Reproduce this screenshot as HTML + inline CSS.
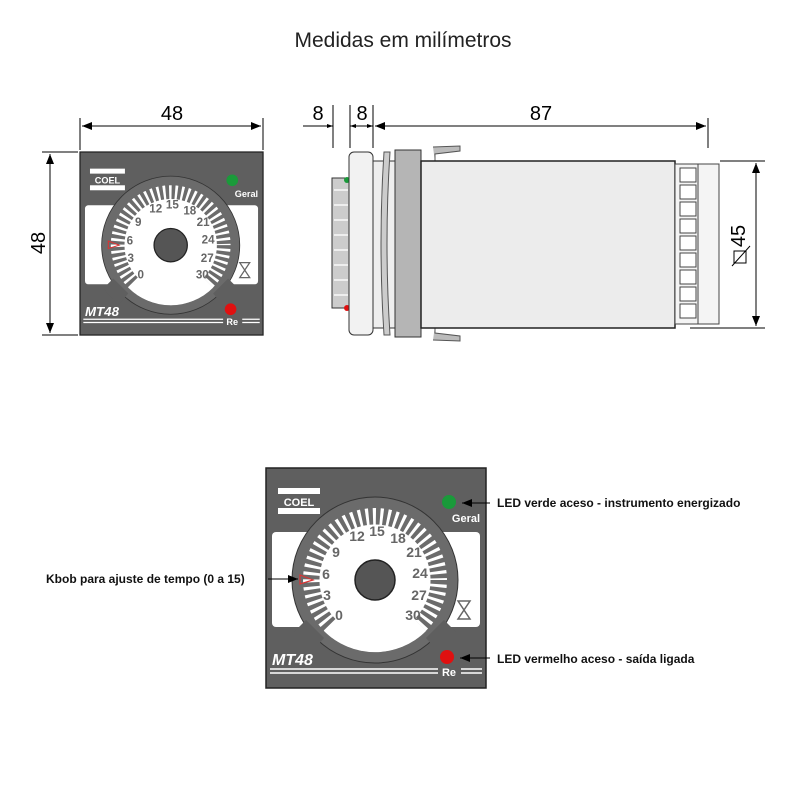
<!DOCTYPE html>
<html><head><meta charset="utf-8"><style>body{margin:0;background:#fff}svg{display:block}</style></head><body>
<svg width="800" height="800" viewBox="0 0 800 800" xmlns="http://www.w3.org/2000/svg" font-family="Liberation Sans, sans-serif">
<defs>
<marker id="a" markerWidth="10" markerHeight="8" refX="10" refY="4" orient="auto" markerUnits="userSpaceOnUse"><path d="M0,0 L10,4 L0,8 Z" fill="#000"/></marker>
<marker id="s" markerWidth="6" markerHeight="4" refX="6" refY="2" orient="auto" markerUnits="userSpaceOnUse"><path d="M0,0 L6,2 L0,4 Z" fill="#000"/></marker>
<g id="face">
<rect x="0" y="0" width="220" height="220" fill="#5f5f5f" stroke="#222" stroke-width="1.5"/>
<rect x="6" y="64" width="208" height="95" rx="4" fill="#fff"/>
<rect x="12" y="20" width="42" height="6" fill="#fff"/>
<rect x="12" y="40" width="42" height="6" fill="#fff"/>
<text x="33" y="38" font-size="11" font-weight="bold" fill="#fff" text-anchor="middle">COEL</text>
<circle cx="109" cy="112" r="83" fill="#6b6b6b" stroke="#333" stroke-width="1"/>
<circle cx="109" cy="112" r="72" fill="#fff"/>
<circle cx="109" cy="112" r="64" fill="none" stroke="#6b6b6b" stroke-width="17" stroke-dasharray="4.2 3"/>
<circle cx="109" cy="112" r="54" fill="#fff"/>
<path d="M109,112 L58,163 A72,72 0 0 0 160,163 Z" fill="#fff"/>
<path d="M40,152 L58,170 L46,184 L28,164 Z" fill="#5f5f5f"/>
<path d="M178,152 L160,170 L172,184 L190,164 Z" fill="#5f5f5f"/>
<circle cx="109" cy="112" r="20" fill="#555" stroke="#222" stroke-width="1.5"/>
<g font-size="14" font-weight="bold" fill="#666" text-anchor="middle">
<text x="91" y="73">12</text><text x="111" y="68">15</text><text x="132" y="75">18</text>
<text x="70" y="89">9</text><text x="148" y="89">21</text>
<text x="60" y="111">6</text><text x="154" y="110">24</text>
<text x="61" y="132">3</text><text x="153" y="132">27</text>
<text x="73" y="152">0</text><text x="147" y="152">30</text>
</g>
<path d="M34,107 L47,112 L34,116 Z" fill="none" stroke="#d33" stroke-width="1.2"/>
<path d="M192,133 L204,133 L198,142 L204,151 L192,151 L198,142 Z" fill="none" stroke="#666" stroke-width="1.5"/>
<circle cx="183" cy="34" r="7" fill="#1a9a3a"/>
<text x="200" y="54" font-size="11" font-weight="bold" fill="#fff" text-anchor="middle">Geral</text>
<circle cx="181" cy="189" r="7" fill="#e01010"/>
<text x="183" y="208" font-size="11" font-weight="bold" fill="#fff" text-anchor="middle">Re</text>
<text x="6" y="197" font-size="16" font-weight="bold" font-style="italic" fill="#fff">MT48</text>
<g stroke="#fff" stroke-width="1.5"><line x1="4" y1="201" x2="172" y2="201"/><line x1="4" y1="205" x2="172" y2="205"/><line x1="195" y1="201" x2="216" y2="201"/><line x1="195" y1="205" x2="216" y2="205"/></g>
</g>
</defs>
<text x="403" y="47" font-size="21" text-anchor="middle" fill="#222">Medidas em milímetros</text>
<g stroke="#000" stroke-width="1" fill="none">
<line x1="80" y1="118" x2="80" y2="150"/><line x1="263" y1="118" x2="263" y2="150"/>
<line x1="82" y1="126" x2="261" y2="126" marker-end="url(#a)"/><line x1="261" y1="126" x2="82" y2="126" marker-end="url(#a)"/>
<line x1="42" y1="152" x2="78" y2="152"/><line x1="42" y1="335" x2="78" y2="335"/>
<line x1="50" y1="154" x2="50" y2="333" marker-end="url(#a)"/><line x1="50" y1="333" x2="50" y2="154" marker-end="url(#a)"/>
</g>
<text x="172" y="120" font-size="20" text-anchor="middle">48</text>
<text transform="translate(45,243) rotate(-90)" font-size="20" text-anchor="middle">48</text>
<use href="#face" transform="translate(80,152) scale(0.832)"/>
<g stroke="#000" stroke-width="1" fill="none">
<line x1="333" y1="105" x2="333" y2="148"/><line x1="350" y1="105" x2="350" y2="148"/><line x1="373" y1="105" x2="373" y2="148"/><line x1="708" y1="118" x2="708" y2="148"/>
<line x1="303" y1="126" x2="333" y2="126" marker-end="url(#s)"/>
<line x1="361" y1="126" x2="350" y2="126" marker-end="url(#s)"/><line x1="361" y1="126" x2="373" y2="126" marker-end="url(#s)"/>
<line x1="706" y1="126" x2="375" y2="126" marker-end="url(#a)"/><line x1="375" y1="126" x2="706" y2="126" marker-end="url(#a)"/>
<line x1="720" y1="161" x2="765" y2="161"/><line x1="690" y1="328" x2="765" y2="328"/>
<line x1="756" y1="163" x2="756" y2="326" marker-end="url(#a)"/><line x1="756" y1="326" x2="756" y2="163" marker-end="url(#a)"/>
</g>
<text x="318" y="120" font-size="20" text-anchor="middle">8</text>
<text x="362" y="120" font-size="20" text-anchor="middle">8</text>
<text x="541" y="120" font-size="20" text-anchor="middle">87</text>
<text transform="translate(745,236) rotate(-90)" font-size="20" text-anchor="middle">45</text>
<rect x="734" y="251" width="12" height="12" fill="none" stroke="#000"/><line x1="732" y1="266" x2="750" y2="246" stroke="#000"/>
<rect x="332" y="178" width="17" height="130" fill="#ccc" stroke="#333"/>
<g stroke="#eee" stroke-width="2"><line x1="334" y1="190" x2="348" y2="190"/><line x1="334" y1="205" x2="348" y2="205"/><line x1="334" y1="220" x2="348" y2="220"/><line x1="334" y1="235" x2="348" y2="235"/><line x1="334" y1="250" x2="348" y2="250"/><line x1="334" y1="265" x2="348" y2="265"/><line x1="334" y1="280" x2="348" y2="280"/><line x1="334" y1="295" x2="348" y2="295"/></g>
<circle cx="347" cy="180" r="3" fill="#1a9a3a"/><circle cx="347" cy="308" r="3" fill="#e01010"/>
<rect x="373" y="161" width="50" height="167" fill="#eee" stroke="#333"/>
<rect x="349" y="152" width="24" height="183" rx="5" fill="#f2f2f2" stroke="#333"/>
<path d="M433,147 L460,146 L460,151 L435,154 L435,162 M433,340 L460,341 L460,336 L435,333 L435,326" fill="#bbb" stroke="#555"/>
<path d="M384,152 Q378,243 384,335 L390,335 Q384,243 390,152 Z" fill="#ccc" stroke="#555"/>
<rect x="395" y="150" width="26" height="187" fill="#b5b5b5" stroke="#333"/>
<rect x="421" y="161" width="254" height="167" fill="#ececec" stroke="#222" stroke-width="1.5"/>
<rect x="675" y="164" width="44" height="160" fill="#f4f4f4" stroke="#444"/>
<line x1="698" y1="164" x2="698" y2="324" stroke="#444"/>
<g fill="#fff" stroke="#444"><rect x="680" y="168" width="16" height="14"/><rect x="680" y="185" width="16" height="14"/><rect x="680" y="202" width="16" height="14"/><rect x="680" y="219" width="16" height="14"/><rect x="680" y="236" width="16" height="14"/><rect x="680" y="253" width="16" height="14"/><rect x="680" y="270" width="16" height="14"/><rect x="680" y="287" width="16" height="14"/><rect x="680" y="304" width="16" height="14"/></g>
<use href="#face" transform="translate(266,468)"/>
<g stroke="#000" stroke-width="1"><line x1="490" y1="503" x2="462" y2="503" marker-end="url(#a)"/><line x1="490" y1="658" x2="460" y2="658" marker-end="url(#a)"/><line x1="268" y1="579" x2="298" y2="579" marker-end="url(#a)"/></g>
<g font-size="12" font-weight="bold" fill="#111">
<text x="497" y="507">LED verde aceso - instrumento energizado</text>
<text x="497" y="663">LED vermelho aceso - saída ligada</text>
<text x="46" y="583">Kbob para ajuste de tempo (0 a 15)</text>
</g>
</svg>
</body></html>
